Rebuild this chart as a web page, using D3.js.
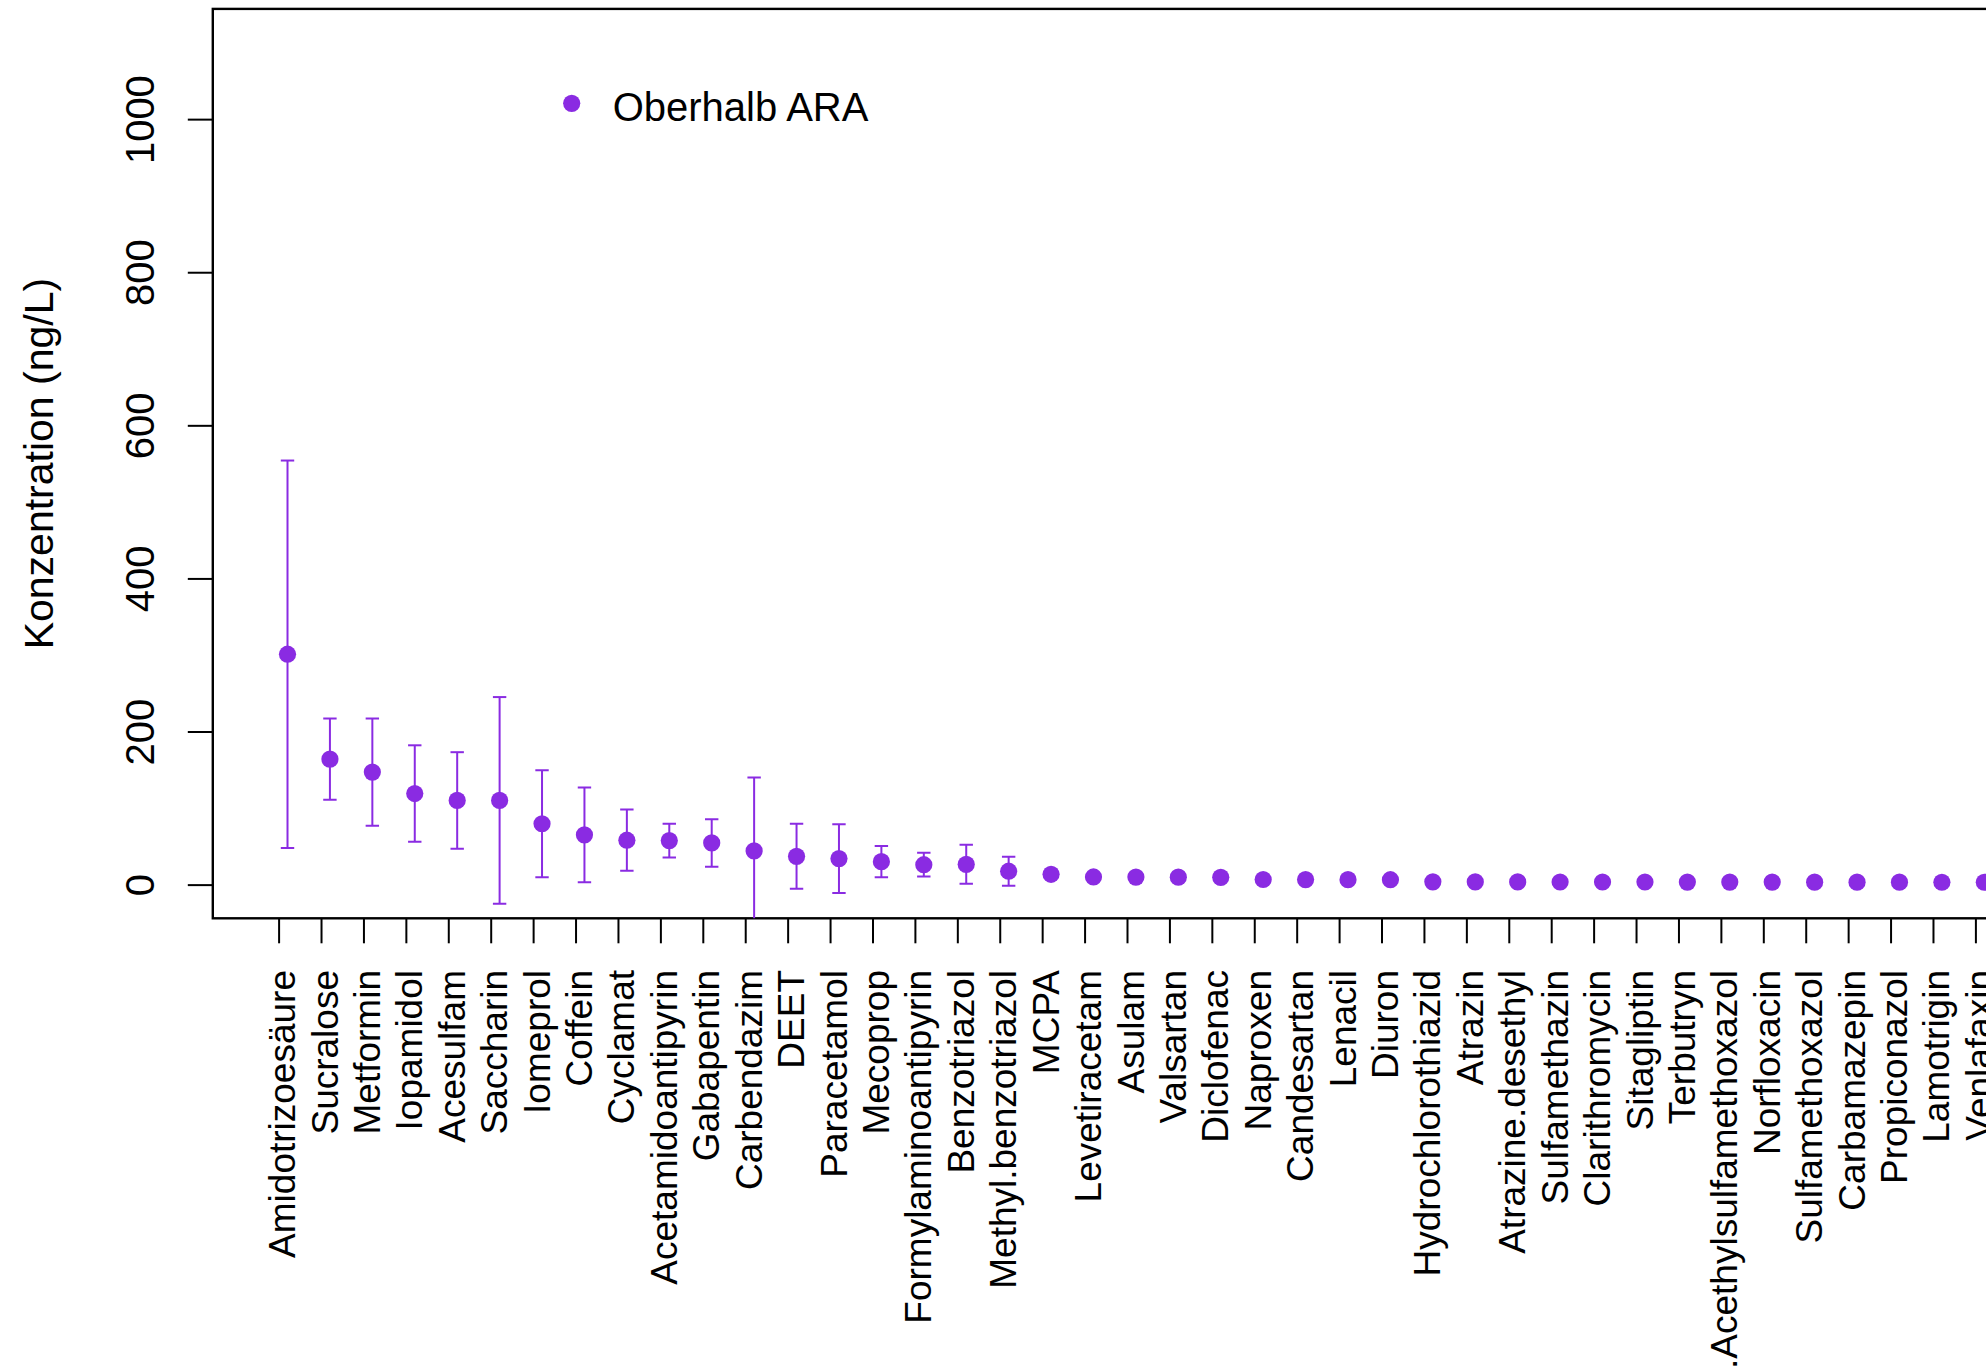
<!DOCTYPE html>
<html>
<head>
<meta charset="utf-8">
<script src="https://cdn.jsdelivr.net/npm/d3@7"></script>
<style>
  html, body { margin: 0; padding: 0; background: #fff; overflow: hidden; }
  text { font-family: "Liberation Sans", Arial, sans-serif; fill: #000; }
</style>
</head>
<body>
<svg id="chart" width="1986" height="1366"></svg>
<script>
// Substances, ordered by mean concentration
const compounds = [
  "Amidotrizoesäure", "Sucralose", "Metformin", "Iopamidol", "Acesulfam",
  "Saccharin", "Iomeprol", "Coffein", "Cyclamat", "Acetamidoantipyrin",
  "Gabapentin", "Carbendazim", "DEET", "Paracetamol", "Mecoprop",
  "Formylaminoantipyrin", "Benzotriazol", "Methyl.benzotriazol", "MCPA", "Levetiracetam",
  "Asulam", "Valsartan", "Diclofenac", "Naproxen", "Candesartan",
  "Lenacil", "Diuron", "Hydrochlorothiazid", "Atrazin", "Atrazine.desethyl",
  "Sulfamethazin", "Clarithromycin", "Sitagliptin", "Terbutryn", "N.Acethylsulfamethoxazol",
  "Norfloxacin", "Sulfamethoxazol", "Carbamazepin", "Propiconazol", "Lamotrigin",
  "Venlafaxin"
];

// Mean concentration upstream of the treatment plant (ng/L)
const meanOberhalb = [
  301, 164, 147, 119, 110,
  110, 79.5, 65, 58, 57.5,
  54.5, 44, 37, 34, 30,
  26, 26.5, 17.5, 13.5, 10,
  9.8, 9.7, 9.5, 6.7, 6.6,
  6.5, 6.4, 3.6, 3.5, 3.5,
  3.4, 3.4, 3.4, 3.3, 3.3,
  3.3, 3.2, 3.2, 3.2, 3.1,
  3.1
];

// Standard deviation (ng/L); 0 where no spread is drawn
const sdOberhalb = [
  253, 53, 70, 63, 63,
  135, 70, 62, 40, 22,
  31, 96, 42.5, 45, 20.5,
  15.5, 25.5, 19, 0, 0,
  0, 0, 0, 0, 0,
  0, 0, 0, 0, 0,
  0, 0, 0, 0, 0,
  0, 0, 0, 0, 0,
  0
];

const yTicks = [0, 200, 400, 600, 800, 1000];
const seriesName = "Oberhalb ARA";
const yTitle = "Konzentration (ng/L)";

const color = "#8a2be2";
const W = 1986, H = 1366;
const box = { left: 212.8, top: 8.9, bottom: 918.3, right: 2080 };
const xShift = 0.21;   // series drawn slightly right of its tick

const svg = d3.select("#chart");

const x = d3.scaleLinear().domain([1, 41]).range([278.6, 1975.4]);
const y = d3.scaleLinear().domain([-44, 1144]).range([box.bottom, box.top]);

svg.append("defs").append("clipPath").attr("id", "plotClip")
  .append("rect")
  .attr("x", box.left).attr("y", box.top)
  .attr("width", box.right - box.left).attr("height", box.bottom - box.top);

// y axis
const gy = svg.append("g")
  .attr("transform", `translate(${box.left},0)`)
  .call(d3.axisLeft(y).tickValues(yTicks).tickSize(25).tickFormat(d3.format("d")));
gy.select(".domain").remove();
gy.selectAll(".tick line").attr("stroke", "#000").attr("stroke-width", 2);
gy.selectAll(".tick text")
  .attr("x", null).attr("dy", null)
  .attr("transform", "translate(-58.8,0) rotate(-90)")
  .attr("text-anchor", "middle")
  .style("font-size", "40px")
  .style("font-family", "'Liberation Sans', Arial, sans-serif")
  .attr("fill", "#000");

// x axis
const gx = svg.append("g")
  .attr("transform", `translate(0,${box.bottom})`)
  .call(d3.axisBottom(x).tickValues(d3.range(1, compounds.length + 1))
    .tickSize(25).tickFormat(i => compounds[i - 1]));
gx.select(".domain").remove();
gx.selectAll(".tick line").attr("stroke", "#000").attr("stroke-width", 2);
gx.selectAll(".tick text")
  .attr("y", null).attr("dy", null)
  .attr("transform", "translate(16,51.7) rotate(-90)")
  .attr("text-anchor", "end")
  .style("font-size", "37px")
  .style("font-family", "'Liberation Sans', Arial, sans-serif")
  .attr("fill", "#000");

// plot frame
svg.append("rect")
  .attr("x", box.left).attr("y", box.top)
  .attr("width", box.right - box.left).attr("height", box.bottom - box.top)
  .attr("fill", "none").attr("stroke", "#000").attr("stroke-width", 2.4);

// y title
svg.append("text")
  .attr("transform", `translate(53.3,${(box.top + box.bottom) / 2}) rotate(-90)`)
  .attr("text-anchor", "middle")
  .style("font-size", "41px")
  .text(yTitle);

// data
const rows = compounds.map((c, i) => ({ name: c, pos: i + 1, mean: meanOberhalb[i], sd: sdOberhalb[i] }));
const plotG = svg.append("g").attr("clip-path", "url(#plotClip)");
const capHalf = 6.7;

const bars = plotG.selectAll("g.err").data(rows.filter(d => d.sd > 0)).join("g").attr("class", "err")
  .attr("stroke", color).attr("stroke-width", 2).attr("fill", "none");
bars.append("line")
  .attr("x1", d => x(d.pos + xShift)).attr("x2", d => x(d.pos + xShift))
  .attr("y1", d => y(d.mean - d.sd)).attr("y2", d => y(d.mean + d.sd));
bars.append("line")
  .attr("x1", d => x(d.pos + xShift) - capHalf).attr("x2", d => x(d.pos + xShift) + capHalf)
  .attr("y1", d => y(d.mean + d.sd)).attr("y2", d => y(d.mean + d.sd));
bars.append("line")
  .attr("x1", d => x(d.pos + xShift) - capHalf).attr("x2", d => x(d.pos + xShift) + capHalf)
  .attr("y1", d => y(d.mean - d.sd)).attr("y2", d => y(d.mean - d.sd));

plotG.selectAll("circle.pt").data(rows).join("circle").attr("class", "pt")
  .attr("cx", d => x(d.pos + xShift)).attr("cy", d => y(d.mean))
  .attr("r", 8.6).attr("fill", color);

// legend
const leg = svg.append("g");
leg.append("circle").attr("cx", 571.7).attr("cy", 103.3).attr("r", 8.6).attr("fill", color);
leg.append("text").attr("x", 612.7).attr("y", 121)
  .style("font-size", "40px").text(seriesName);
</script>
</body>
</html>
